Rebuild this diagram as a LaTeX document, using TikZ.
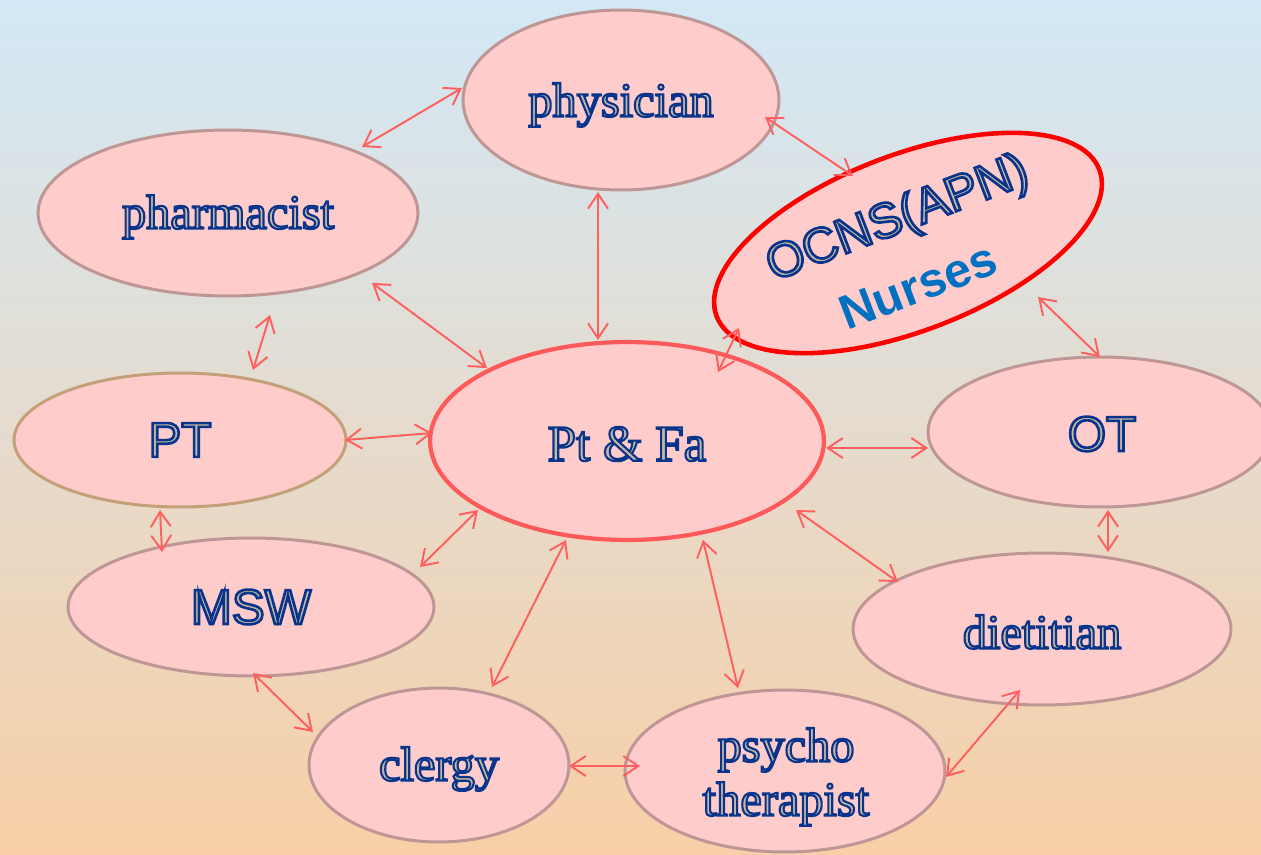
\documentclass[tikz,border=0pt]{standalone}
\usepackage{fontspec}
\setmainfont{Liberation Serif}
\setsansfont{Liberation Sans}
\usetikzlibrary{shapes.geometric,arrows.meta,calc}
\definecolor{bgtop}{RGB}{210,232,246}
\definecolor{bgmid}{RGB}{228,225,220}
\definecolor{bgbot}{RGB}{248,207,166}
\definecolor{ellfill}{RGB}{255,204,204}
\definecolor{elldraw}{RGB}{190,150,150}
\definecolor{ptdraw}{RGB}{196,160,120}
\definecolor{centerdraw}{RGB}{255,90,90}
\definecolor{arrowred}{RGB}{255,95,95}
\definecolor{txtfill}{RGB}{200,186,160}
\definecolor{nurseblue}{RGB}{0,112,192}
\newcommand{\olt}[1]{{\color{txtfill}\special{pdf:literal direct 2 Tr 1.2 w 0.031 0.204 0.549 RG}#1\special{pdf:literal direct 0 Tr}}}
\newcommand{\olsans}[1]{{\color{txtfill}\special{pdf:literal direct 2 Tr 1.5 w 0.031 0.204 0.549 RG}#1\special{pdf:literal direct 0 Tr}}}
\begin{document}
\begin{tikzpicture}[x=0.02cm,y=-0.02cm,
  ell/.style 2 args={ellipse, draw=elldraw, fill=ellfill, line width=1.7pt,
    minimum width=#1*0.04cm, minimum height=#2*0.04cm, inner sep=0pt},
  stext/.style={font=\fontsize{27.5}{30}\selectfont, inner sep=0pt},
  sstext/.style={font=\sffamily\fontsize{28}{32}\selectfont, inner sep=0pt},
  conn/.style={draw=arrowred, line width=1.1pt, {Straight Barb[length=0.3cm,width=0.4cm]}-{Straight Barb[length=0.3cm,width=0.4cm]}}
]
\shade[top color=bgtop, middle color=bgmid, bottom color=bgbot] (0,0) rectangle (1261,855);
\useasboundingbox (0,0) rectangle (1261,855);

% ellipses
\node[ell={158}{90}] (phys) at (621,100) {};
\node[ell={190}{83}] (pharm) at (228,213) {};
\node[ell={205}{88}, rotate=21, draw=red, line width=2.6pt] (ocns) at (908,243) {};
\node[ell={166}{67}, draw=ptdraw] (pt) at (180,440) {};
\node[ell={197}{99}, draw=centerdraw, line width=2.4pt] (ptfa) at (627,441) {};
\node[ell={172}{75}] (ot) at (1100,432) {};
\node[ell={183}{69}] (msw) at (251,607) {};
\node[ell={189}{76}] (diet) at (1042,629) {};
\node[ell={130}{77}] (clergy) at (439,765) {};
\node[ell={160}{81}] (psy) at (785,771) {};

% texts
\node[stext] (physT) at (621,105) {\olt{physician}};
\node[stext] (pharmT) at (228,217) {\olt{pharmacist}};
\node[stext, font=\fontsize{29}{32}\selectfont] (ptfaT) at (627,444) {\olt{Pt \& Fa}};
\node[stext] (dietT) at (1042,632) {\olt{dietitian}};
\node[stext] (clergyT) at (439,769) {\olt{clergy}};
\node[stext] (psyT1) at (786,750) {\olt{psycho}};
\node[stext] (psyT2) at (786,804) {\olt{therapist}};
\node[sstext] (ptT) at (180,440) {\olsans{PT}};
\node[sstext] (otT) at (1102,434) {\olsans{OT}};
\node[sstext] (mswT) at (251,607) {\olsans{MSW}};
\node[sstext, rotate=21] (ocnsT) at (898,220) {\olsans{OCNS(APN)}};
\node[sstext, font=\sffamily\bfseries\fontsize{27.5}{32}\selectfont, text=nurseblue, rotate=21] (nurT) at (918,286) {Nurses};

% connectors
\draw[conn] ($(pharm)+(134,-66)$) -- ($(phys)+(-159,-12)$);
\draw[conn] ($(phys)+(144,17)$) -- ($(ocns)+(-55,-67)$);
\draw[conn] ($(phys)+(-23,92)$) -- ($(ptfa)+(-29,-101)$);
\draw[conn] ($(pharm)+(144,70)$) -- ($(ptfa)+(-140,-73)$);
\draw[conn] ($(ocns)+(-169,85)$) -- ($(ptfa)+(91,-69)$);
\draw[conn] ($(ocns)+(130,54)$) -- ($(ot)+(0,-75)$);
\draw[conn] ($(pharm)+(42,102)$) -- ($(pt)+(73,-70)$);
\draw[conn] ($(pt)+(165,0)$) -- ($(ptfa)+(-195,-8)$);
\draw[conn] ($(ptfa)+(199,7)$) -- ($(ot)+(-172,16)$);
\draw[conn] ($(pt)+(-20,70)$) -- ($(msw)+(-89,-55)$);
\draw[conn] ($(msw)+(169,-40)$) -- ($(ptfa)+(-149,69)$);
\draw[conn] ($(ot)+(8,78)$) -- ($(diet)+(66,-77)$);
\draw[conn] ($(ptfa)+(169,69)$) -- ($(diet)+(-144,-47)$);
\draw[conn] ($(ptfa)+(-61,99)$) -- ($(clergy)+(53,-78)$);
\draw[conn] ($(ptfa)+(76,99)$) -- ($(psy)+(-47,-83)$);
\draw[conn] ($(msw)+(2,66)$) -- ($(clergy)+(-126,-33)$);
\draw[conn] ($(clergy)+(130,1)$) -- ($(psy)+(-145,-5)$);
\draw[conn] ($(psy)+(161,6)$) -- ($(diet)+(-22,61)$);
\end{tikzpicture}
\end{document}
